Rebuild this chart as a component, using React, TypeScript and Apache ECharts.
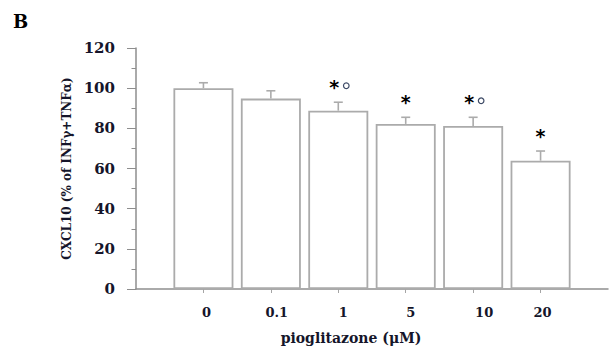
import React, { useEffect, useRef } from "react";
import * as echarts from "echarts";

// ---- data ----
const doses = ["0", "0.1", "1", "5", "10", "20"];
const means = [100, 94.8, 88.8, 82.2, 81.2, 63.9];
const sems = [2.7, 3.9, 4.2, 3.3, 4.3, 4.8];
const starMarks = [false, false, true, true, true, true];
const circleMarks = [false, false, true, false, true, false];
const yMin = 0;
const yMax = 120;
const yInterval = 20;
const yAxisTitle = "CXCL10 (% of INFγ+TNFα)";
const xAxisTitle = "pioglitazone (μM)";
const panelLetter = "B";

// ---- style / layout constants ----
const labelShift = [3, 6, 5, 5, 11, 2];
const SERIF = '"DejaVu Serif", "Liberation Serif", serif';
const TEXT = "#15152a";
const AXIS = "#8e8e8e";
const BAR_EDGE = "#ababab";

export default function App() {
  const ref = useRef<HTMLDivElement>(null);

  useEffect(() => {
    if (!ref.current) return;
    const chart = echarts.init(ref.current, null, { renderer: "svg" });
    const categories = ["", ...doses, ""];
    const rich: Record<string, any> = {};
    labelShift.forEach((s, i) => {
      rich["s" + i] = {
        padding: [0, 0, 0, s * 2],
        fontFamily: SERIF,
        fontWeight: "bold",
        fontSize: 13,
        color: TEXT,
      };
    });

    chart.setOption({
      animation: false,
      backgroundColor: "#ffffff",
      grid: { left: 136, top: 48, width: 486.5, height: 241, containLabel: false },
      xAxis: {
        type: "category",
        data: categories,
        boundaryGap: false,
        axisLine: { show: true, lineStyle: { color: AXIS, width: 1.5 } },
        axisTick: {
          show: true,
          length: 4,
          interval: (i: number, v: string) => v !== "",
          lineStyle: { color: "#a5a5a5", width: 1 },
        },
        axisLabel: {
          show: true,
          interval: 0,
          margin: 17,
          formatter: (v: string, idx: number) => (v === "" ? "" : `{s${idx - 1}|${v}}`),
          rich,
        },
        splitLine: { show: false },
      },
      yAxis: {
        type: "value",
        min: yMin,
        max: yMax,
        interval: yInterval,
        name: yAxisTitle,
        nameLocation: "middle",
        nameRotate: 90,
        nameGap: 58,
        nameTextStyle: { fontFamily: SERIF, fontWeight: "bold", fontSize: 12, color: TEXT },
        axisLine: { show: true, lineStyle: { color: AXIS, width: 1.5 } },
        axisTick: { show: true, length: 9, lineStyle: { color: AXIS, width: 1 } },
        minorTick: { show: true, splitNumber: 2, length: 4.5, lineStyle: { color: AXIS, width: 1 } },
        axisLabel: {
          margin: 21,
          fontFamily: SERIF,
          fontWeight: "bold",
          fontSize: 15,
          color: TEXT,
        },
        splitLine: { show: false },
      },
      graphic: [
        {
          type: "text",
          x: 13,
          y: 21,
          style: {
            text: panelLetter,
            font: `bold 18px ${SERIF}`,
            fill: "#000",
            textVerticalAlign: "middle",
          },
        },
        {
          type: "text",
          x: 351,
          y: 338,
          style: {
            text: xAxisTitle,
            font: `bold 14px ${SERIF}`,
            fill: TEXT,
            textAlign: "center",
            textVerticalAlign: "middle",
          },
        },
      ],
      series: [
        {
          type: "bar",
          barWidth: 60,
          data: doses.map((d, i) => [d, means[i]]),
          itemStyle: { color: "#ffffff", borderColor: BAR_EDGE, borderWidth: 1.8 },
          z: 2,
        },
        {
          type: "custom",
          z: 3,
          encode: { x: 0, y: 1 },
          data: doses.map((d, i) => [i + 1, means[i], sems[i]]),
          renderItem: (params: any, api: any) => {
            const k = params.dataIndex;
            const idx = api.value(0);
            const m = api.value(1);
            const s = api.value(2);
            const base = api.coord([idx, m]);
            const top = api.coord([idx, m + s]);
            const cx = base[0];
            const stroke = { stroke: BAR_EDGE, lineWidth: 1.6 };
            const children: any[] = [
              { type: "line", shape: { x1: cx, y1: base[1], x2: cx, y2: top[1] }, style: stroke },
              { type: "line", shape: { x1: cx - 4.5, y1: top[1], x2: cx + 4.5, y2: top[1] }, style: stroke },
            ];
            const hasCircle = circleMarks[k];
            if (starMarks[k]) {
              children.push({
                type: "text",
                x: cx + (hasCircle ? -4 : 0),
                y: top[1] - 15.5,
                style: {
                  text: "*",
                  font: 'bold 19px "DejaVu Sans", sans-serif',
                  fill: "#000",
                  textAlign: "center",
                  textVerticalAlign: "middle",
                },
                position: [0, 5],
              });
            }
            if (hasCircle) {
              children.push({
                type: "circle",
                shape: { cx: cx + 8, cy: top[1] - 16.5, r: 2.8 },
                style: { fill: "none", stroke: "#3d4a66", lineWidth: 1.2 },
              });
            }
            return { type: "group", children };
          },
        },
      ],
    });
    return () => chart.dispose();
  }, []);

  return (
    <div
      ref={ref}
      style={{ position: "absolute", left: 0, top: 0, width: 611, height: 354, background: "#fff" }}
    />
  );
}
